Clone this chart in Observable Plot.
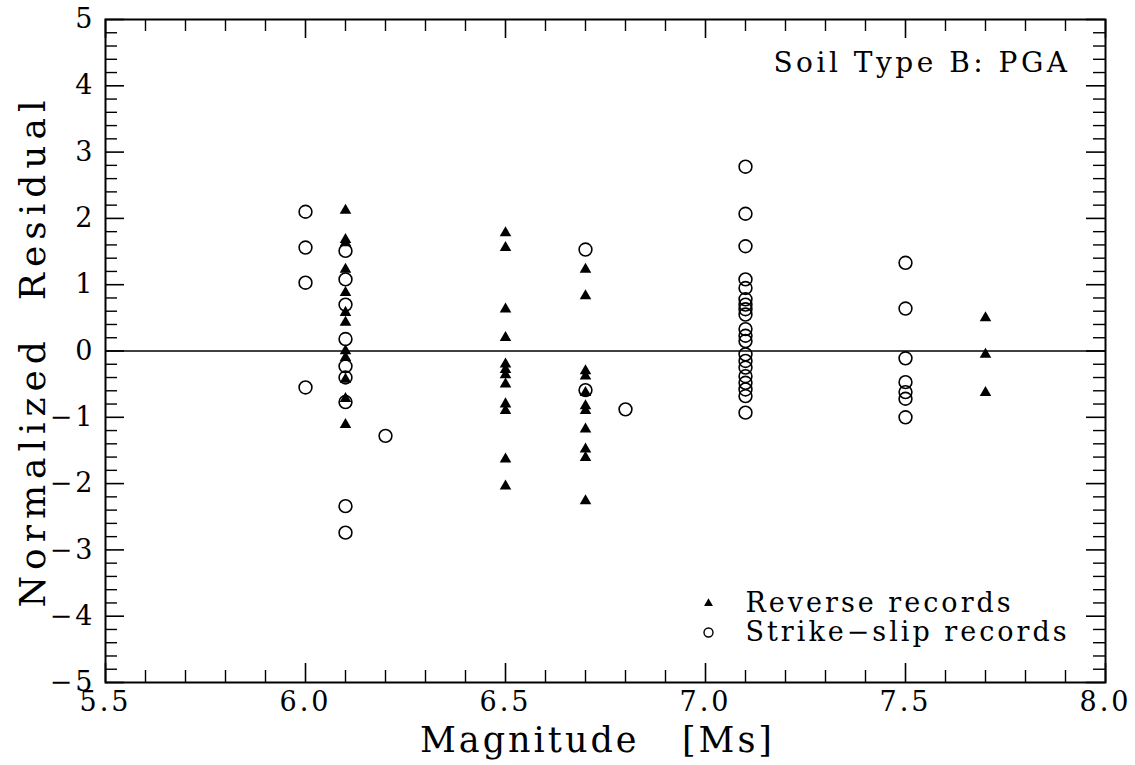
<!DOCTYPE html>
<html><head><meta charset="utf-8">
<script src="https://cdn.jsdelivr.net/npm/d3@7"></script>
<script src="https://cdn.jsdelivr.net/npm/@observablehq/plot@0.6"></script>
<style>
body{margin:0;background:#fff}
svg text{white-space:pre}
g[aria-label="x-axis tick label"] text{letter-spacing:3px}
g[aria-label="y-axis tick label"] text{letter-spacing:3px}
</style>
</head><body><div id="chart"></div>
<script>
// Reverse-faulting records (filled triangles), residuals by magnitude
const reverse61 = [2.12, 1.68, 1.63, 1.23, 0.88, 0.58, 0.43, 0.0, -0.10, -0.43, -0.72, -1.11];
const reverse65 = [1.78, 1.56, 0.63, 0.20, -0.20, -0.28, -0.36, -0.50, -0.80, -0.90, -1.63, -2.04];
const reverse67 = [1.23, 0.83, -0.30, -0.38, -0.63, -0.83, -0.90, -1.18, -1.48, -1.61, -2.26];
const reverse77 = [0.50, -0.05, -0.63];
// Strike-slip records (open circles), residuals by magnitude
const strike60 = [2.10, 1.56, 1.03, -0.55];
const strike61 = [1.51, 1.08, 0.70, 0.18, -0.23, -0.40, -0.77, -2.34, -2.74];
const strike62 = [-1.28];
const strike67 = [1.53, -0.59];
const strike68 = [-0.88];
const strike71 = [2.78, 2.07, 1.58, 1.08, 0.95, 0.78, 0.70, 0.63, 0.55, 0.33, 0.23, 0.15, -0.05, -0.15, -0.25, -0.38, -0.48, -0.58, -0.68, -0.93];
const strike75 = [1.33, 0.64, -0.11, -0.47, -0.62, -0.72, -1.00];

const xMajor = [5.5, 6.0, 6.5, 7.0, 7.5, 8.0];
const yMajor = [-5, -4, -3, -2, -1, 0, 1, 2, 3, 4, 5];
const xMinor = d3.range(55, 81).filter(d => d % 5 !== 0).map(d => d / 10);
const yMinor = d3.range(-25, 26).filter(d => d % 5 !== 0).map(d => d / 5);

const panelTitle = "Soil Type B: PGA";
const legendLabels = ["Reverse records", "Strike\u2212slip records"];
const xTitle = "Magnitude   [Ms]";
const yTitle = "Normalized  Residual";

const toRows = (mag, arr) => arr.map(res => ({mag, res}));
const reverse = [
  ...toRows(6.1, reverse61), ...toRows(6.5, reverse65),
  ...toRows(6.7, reverse67), ...toRows(7.7, reverse77)
];
const strike = [
  ...toRows(6.0, strike60), ...toRows(6.1, strike61), ...toRows(6.2, strike62),
  ...toRows(6.7, strike67), ...toRows(6.8, strike68), ...toRows(7.1, strike71),
  ...toRows(7.5, strike75)
];

const W = 1135, H = 765;
const mL = 105, mR = 30, mT = 19, mB = 83;
const pw = W - mL - mR, ph = H - mT - mB;
const MAJ = 19, MIN = 12;
const font = "DejaVu Serif";

const chart = Plot.plot({
  width: W, height: H,
  marginLeft: mL, marginRight: mR, marginTop: mT, marginBottom: mB,
  style: {fontFamily: font, fontSize: "26px", color: "black", background: "white"},
  x: {domain: [5.5, 8.0], label: null},
  y: {domain: [-5, 5], label: null},
  marks: [
    Plot.frame({stroke: "black", strokeWidth: 2}),
    // inward ticks, bottom & top
    Plot.tickX(xMajor, {x: d => d, insetTop: ph - MAJ, strokeWidth: 1.6}),
    Plot.tickX(xMinor, {x: d => d, insetTop: ph - MIN, strokeWidth: 1.4}),
    Plot.tickX(xMajor, {x: d => d, insetBottom: ph - MAJ, strokeWidth: 1.6}),
    Plot.tickX(xMinor, {x: d => d, insetBottom: ph - MIN, strokeWidth: 1.4}),
    // inward ticks, left & right
    Plot.tickY(yMajor, {y: d => d, insetRight: pw - MAJ, strokeWidth: 1.6}),
    Plot.tickY(yMinor, {y: d => d, insetRight: pw - MIN, strokeWidth: 1.4}),
    Plot.tickY(yMajor, {y: d => d, insetLeft: pw - MAJ, strokeWidth: 1.6}),
    Plot.tickY(yMinor, {y: d => d, insetLeft: pw - MIN, strokeWidth: 1.4}),
    Plot.ruleY([0], {stroke: "black", strokeWidth: 1.6}),
    Plot.axisX({ticks: xMajor, tickSize: 0, tickPadding: 9, tickFormat: d3.format(".1f"), fontSize: 27, label: null, dx: 0}),
    Plot.axisY({ticks: yMajor, tickSize: 0, tickPadding: 10, fontSize: 27, label: null}),
    Plot.dot(strike, {x: "mag", y: "res", symbol: "circle", r: 6.4, stroke: "black", fill: "none", strokeWidth: 1.6}),
    Plot.dot(reverse, {x: "mag", y: "res", symbol: "triangle", r: 4.3, fill: "black", stroke: "none"}),
    // panel title
    Plot.text([panelTitle], {frameAnchor: "top-right", dx: -35, dy: 44, textAnchor: "end", lineAnchor: "middle", fontSize: 28, fill: "black"}),
    // legend
    Plot.dot([0], {frameAnchor: "bottom-right", dx: -397, dy: -79, symbol: "triangle", r: 3.3, fill: "black"}),
    Plot.dot([0], {frameAnchor: "bottom-right", dx: -397, dy: -50, symbol: "circle", r: 4.5, stroke: "black", fill: "none", strokeWidth: 1.4}),
    Plot.text([legendLabels[0]], {frameAnchor: "bottom-right", dx: -360, dy: -79, textAnchor: "start", lineAnchor: "middle", fontSize: 27, fill: "black"}),
    Plot.text([legendLabels[1]], {frameAnchor: "bottom-right", dx: -360, dy: -50, textAnchor: "start", lineAnchor: "middle", fontSize: 27, fill: "black"}),
    // axis titles
    Plot.text([yTitle], {frameAnchor: "left", dx: -72, rotate: -90, textAnchor: "middle", lineAnchor: "middle", fontSize: 36, fill: "black"}),
    Plot.text([xTitle], {frameAnchor: "bottom", dx: -8, dy: 58, textAnchor: "middle", lineAnchor: "middle", fontSize: 35, fill: "black"})
  ]
});
const spacing = new Map([[panelTitle, 3.5], [legendLabels[0], 3], [legendLabels[1], 3], [xTitle, 3], [yTitle, 6]]);
d3.select(chart).selectAll("text").each(function () {
  const s = spacing.get(this.textContent);
  if (s != null) this.style.letterSpacing = s + "px";
});
document.getElementById("chart").appendChild(chart);
</script>
</body></html>
